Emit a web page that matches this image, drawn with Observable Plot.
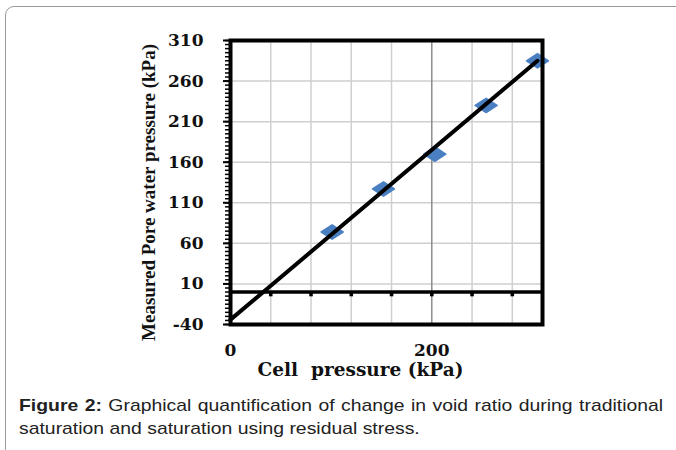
<!DOCTYPE html>
<html>
<head>
<meta charset="utf-8">
<script src="https://cdn.jsdelivr.net/npm/d3@7"></script>
<script src="https://cdn.jsdelivr.net/npm/@observablehq/plot@0.6"></script>
<style>
  html, body { margin: 0; padding: 0; background: #fff; }
  body { width: 676px; height: 450px; overflow: hidden; position: relative; }
  #border { position: absolute; left: 5px; top: 6px; width: 720px; height: 520px;
            border: 1.5px solid #9a9a9a; border-radius: 9px; box-sizing: border-box; }
  #chart { position: absolute; left: 0; top: 0; }
  #caption { position: absolute; left: 19px; top: 394px; width: 565px;
             font-family: "Liberation Sans", Arial, sans-serif; font-size: 17px; line-height: 23px;
             color: #222; transform: scale(1.14, 1); transform-origin: 0 0; }
  #caption .l1 { text-align: justify; text-align-last: justify; white-space: nowrap; }
  #caption b { font-weight: bold; }
</style>
</head>
<body>
<div id="border"></div>
<div id="chart"></div>
<div id="caption"><div class="l1"><b>Figure 2:</b> Graphical quantification of change in void ratio during traditional</div><div>saturation and saturation using residual stress.</div></div>
<script>
// ---- data ----
const cellPressure = [101, 152, 203, 254, 305];
const porePressure = [74, 127, 170, 230, 285];
const trendX = [0, 305];
const trendY = [-34, 285];
const yTicks = [-40, 10, 60, 110, 160, 210, 260, 310];
const xTicks = [0, 200];
const xMinorGrid = [40, 80, 120, 160, 240, 280];
const xMajorGrid = [200];
const xAxisMarks = [40, 80, 120, 160, 200, 240, 280];
const yLabel = "Measured Pore water pressure (kPa)";
const xLabel = "Cell\u00a0 pressure (kPa)";

const points = cellPressure.map((x, i) => ({x, y: porePressure[i]}));
const trend = trendX.map((x, i) => ({x, y: trendY[i]}));

const wideDiamond = {
  draw(ctx, size) {
    const s = Math.sqrt(size / Math.PI);
    ctx.moveTo(0, -0.65 * s);
    ctx.lineTo(s, 0);
    ctx.lineTo(0, 0.65 * s);
    ctx.lineTo(-s, 0);
    ctx.closePath();
  }
};

const serif = "'DejaVu Serif', serif";

const chart = Plot.plot({
  width: 676,
  height: 385,
  marginLeft: 230,
  marginRight: 134,
  marginTop: 40,
  marginBottom: 61,
  style: {background: "transparent", fontFamily: serif},
  x: {domain: [0, 310]},
  y: {domain: [-40, 310]},
  marks: [
    Plot.ruleX(xMinorGrid, {stroke: "#cfcfcf", strokeWidth: 1.5}),
    Plot.ruleY(yTicks.filter(d => d > -40 && d < 310), {stroke: "#cfcfcf", strokeWidth: 1.5}),
    Plot.ruleX(xMajorGrid, {stroke: "#8c8c8c", strokeWidth: 1.5}),
    Plot.ruleY([0], {stroke: "black", strokeWidth: 3.5}),
    Plot.dot(xAxisMarks, {x: d => d, y: 0, dy: 2.5, symbol: "square", r: 2, fill: "black", stroke: "none"}),
    Plot.dot(points, {x: "x", y: "y", symbol: wideDiamond, r: 11, fill: "#4a7fc1", stroke: "#4a7fc1", strokeWidth: 1.5, strokeLinejoin: "round"}),
    Plot.line(trend, {x: "x", y: "y", stroke: "black", strokeWidth: 4}),
    Plot.axisY({ticks: 70, tickSize: 5, tickFormat: () => "", strokeWidth: 1.5, label: null}),
    Plot.axisY(yTicks, {tickSize: 7, tickPadding: 20, strokeWidth: 2, fontSize: 17, fontWeight: "bold",
                        fill: "#111", label: null, fontFamily: serif, tickFormat: d => String(d)}),
    Plot.axisX(xTicks, {tickSize: 0, tickPadding: 19, fontSize: 17, fontWeight: "bold",
                        fill: "#111", label: null, fontFamily: serif, tickFormat: d => String(d)}),
    Plot.frame({stroke: "black", strokeWidth: 4}),
    Plot.text([xLabel], {text: d => d, frameAnchor: "bottom", dx: -26, dy: 46, lineAnchor: "middle",
                         fontSize: 18.5, fontWeight: "bold", fontFamily: serif, fill: "#111"}),
    Plot.text([yLabel], {text: d => d, frameAnchor: "left", dx: -82, dy: 10, rotate: -90,
                         textAnchor: "middle", lineAnchor: "middle",
                         fontSize: 19, fontWeight: "bold", fontFamily: "'Liberation Serif', serif", fill: "#111"})
  ]
});
document.getElementById("chart").appendChild(chart);
</script>
</body>
</html>
